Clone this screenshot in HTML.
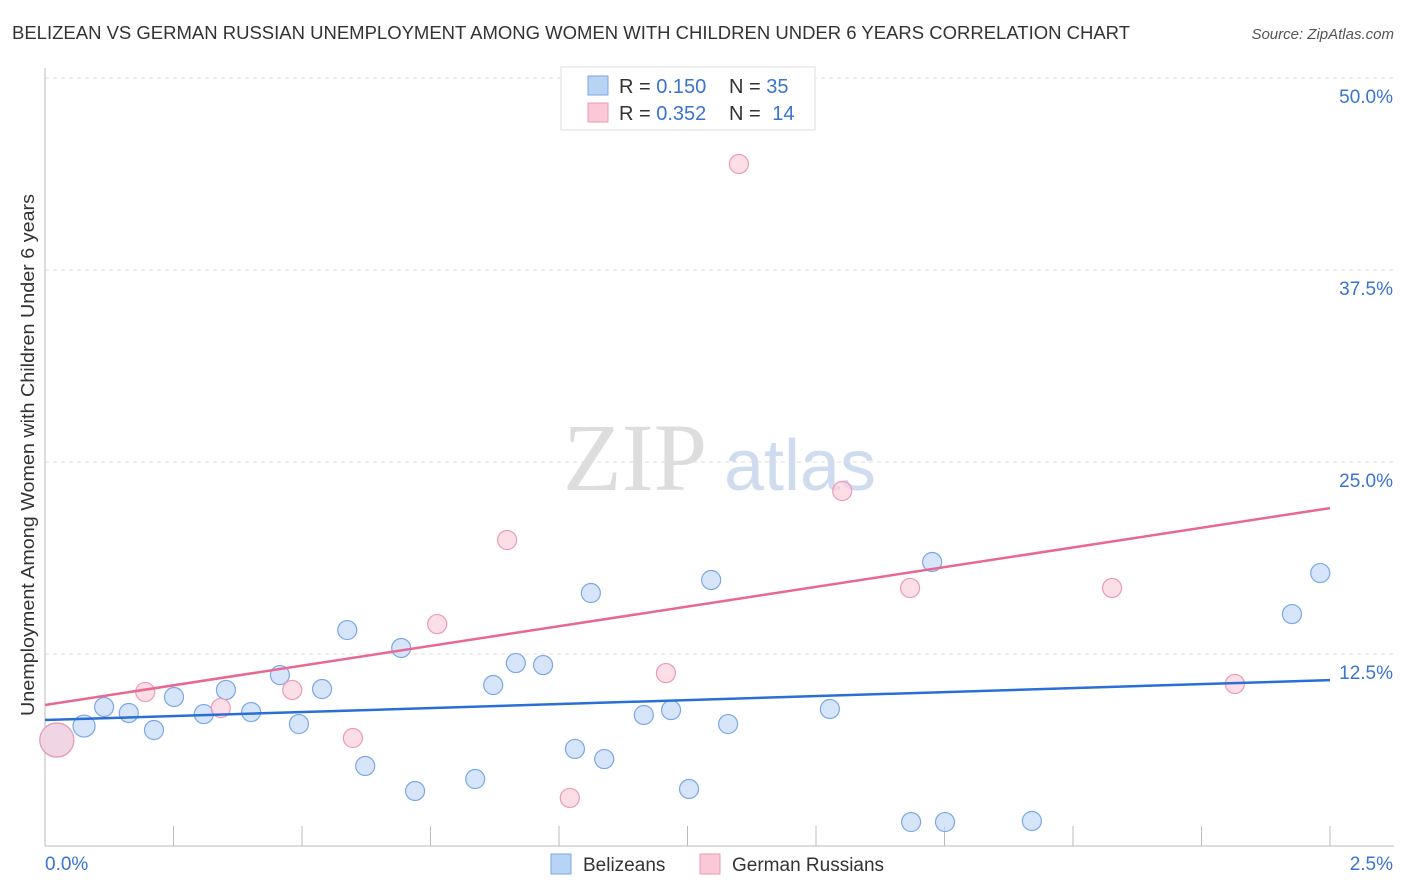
<!DOCTYPE html>
<html><head><meta charset="utf-8"><style>
body{margin:0;background:#fff;font-family:"Liberation Sans",sans-serif;}
svg{display:block}
</style></head><body>
<svg id="c" width="1406" height="892">
<text x="12" y="39" font-size="18" fill="#333" textLength="1118" lengthAdjust="spacingAndGlyphs">BELIZEAN VS GERMAN RUSSIAN UNEMPLOYMENT AMONG WOMEN WITH CHILDREN UNDER 6 YEARS CORRELATION CHART</text>
<text x="1394" y="39" font-size="15" fill="#555" font-style="italic" text-anchor="end">Source: ZipAtlas.com</text>
<text x="635" y="490" font-size="96" fill="#ddd" font-family="Liberation Serif,serif" text-anchor="middle">ZIP</text>
<text x="800" y="490" font-size="72" fill="#cfdcf0" text-anchor="middle">atlas</text>
<text transform="translate(34,455) rotate(-90)" font-size="18" fill="#333" text-anchor="middle" textLength="522" lengthAdjust="spacingAndGlyphs">Unemployment Among Women with Children Under 6 years</text>
<g id="grid"></g><g id="marks"></g>
<g>
<rect x="561" y="67" width="254" height="63" fill="#fff" stroke="#ddd"/>
<rect x="588" y="76" width="20" height="19" fill="#b9d3f5" stroke="#7aa7e6"/>
<rect x="588" y="103" width="20" height="19" fill="#fbc8d7" stroke="#ec9ab5"/>
<text x="619" y="93" font-size="20" fill="#333">R = <tspan fill="#3b73d1">0.150</tspan></text>
<text x="729" y="93" font-size="20" fill="#333">N = <tspan fill="#3b73d1">35</tspan></text>
<text x="619" y="120" font-size="20" fill="#333">R = <tspan fill="#3b73d1">0.352</tspan></text>
<text x="729" y="120" font-size="20" fill="#333">N = <tspan fill="#3b73d1" dx="6">14</tspan></text>
</g>
<g>
<rect x="551" y="854" width="20" height="20" fill="#b9d3f5" stroke="#7aa7e6"/>
<text x="583" y="871" font-size="19" fill="#333">Belizeans</text>
<rect x="700" y="854" width="20" height="20" fill="#fbc8d7" stroke="#ec9ab5"/>
<text x="732" y="871" font-size="19" fill="#333">German Russians</text>
</g>
</svg>
<script>
const yTicks=[12.5,25,37.5,50];
const yTickLabels=["12.5%","25.0%","37.5%","50.0%"];
const xTicks=[0,0.25,0.5,0.75,1,1.25,1.5,1.75,2,2.25,2.5];
const blueX=[0.023,0.076,0.115,0.163,0.212,0.251,0.309,0.352,0.401,0.457,0.494,0.539,0.588,0.623,0.693,0.720,0.837,0.872,0.916,0.969,1.031,1.062,1.088,1.165,1.218,1.253,1.296,1.329,1.527,1.685,1.726,1.751,1.920,2.426,2.481];
const blueY=[6.90,7.81,9.05,8.66,7.55,9.70,8.59,10.16,8.72,11.13,7.94,10.22,14.06,5.21,12.89,3.58,4.36,10.48,11.91,11.78,6.32,16.47,5.66,8.53,8.85,3.71,17.32,7.94,8.92,1.56,18.49,1.56,1.63,15.10,17.77];
const pinkX=[0.023,0.195,0.342,0.481,0.599,0.763,0.899,1.021,1.208,1.350,1.551,1.683,2.076,2.315];
const pinkY=[6.90,10.03,8.98,10.16,7.03,14.45,19.92,3.13,11.26,44.40,23.11,16.80,16.80,10.55];
const blueTrend=[8.2,10.8];
const pinkTrend=[9.18,22.0];
const NS="http://www.w3.org/2000/svg";
const X=v=>45+v/2.5*1285, Y=v=>846-v/50*768;
function mk(t,a,p){const e=document.createElementNS(NS,t);for(const k in a)e.setAttribute(k,a[k]);p.appendChild(e);return e;}
const g=document.getElementById('grid'),m=document.getElementById('marks');
yTicks.forEach((t,i)=>{
 const l=mk('line',{x1:45,x2:1394,y1:Y(t),y2:Y(t),stroke:'#ddd','stroke-dasharray':'4,4'},g);
 
 
 const tx=mk('text',{x:1393,y:Y(t)+25,'font-size':19,fill:'#3b73d1','text-anchor':'end'},g);
 tx.textContent=yTickLabels[i];
 
 
});
const ax=mk('line',{x1:45,x2:1394,y1:846,y2:846,stroke:'#bbb'},g);


const ay=mk('line',{x1:45,x2:45,y1:68,y2:846,stroke:'#bbb'},g);


xTicks.forEach(t=>{const l=mk('line',{x1:X(t),x2:X(t),y1:X(t)<50?846:826,y2:846,stroke:'#bbb'},g);
 
 });
const x0=mk('text',{x:45,y:870,'font-size':19,fill:'#3b73d1'},g);x0.textContent="0.0%";


const x1=mk('text',{x:1393,y:870,'font-size':19,fill:'#3b73d1','text-anchor':'end'},g);x1.textContent="2.5%";


function pts(xs,ys,f,s,name){xs.forEach((x,i)=>{const c=mk('circle',{cx:X(x),cy:Y(ys[i]),r:i==0?17:(i==1&&name[0]=='b'?11:9.5),fill:f,stroke:s,'stroke-width':1.2,'fill-opacity':0.7},m);
 
 });}
pts(blueX,blueY,'#c4daf6','#7aa7e6','belizean-point');
pts(pinkX,pinkY,'#fbd0dd','#ec9ab5','german-russian-point');
const bl=mk('line',{x1:X(0),x2:X(2.5),y1:Y(blueTrend[0]),y2:Y(blueTrend[1]),stroke:'#2a6fd6','stroke-width':2.5},m);


const pl=mk('line',{x1:X(0),x2:X(2.5),y1:Y(pinkTrend[0]),y2:Y(pinkTrend[1]),stroke:'#e8688f','stroke-width':2.5},m);


</script>
</body></html>
